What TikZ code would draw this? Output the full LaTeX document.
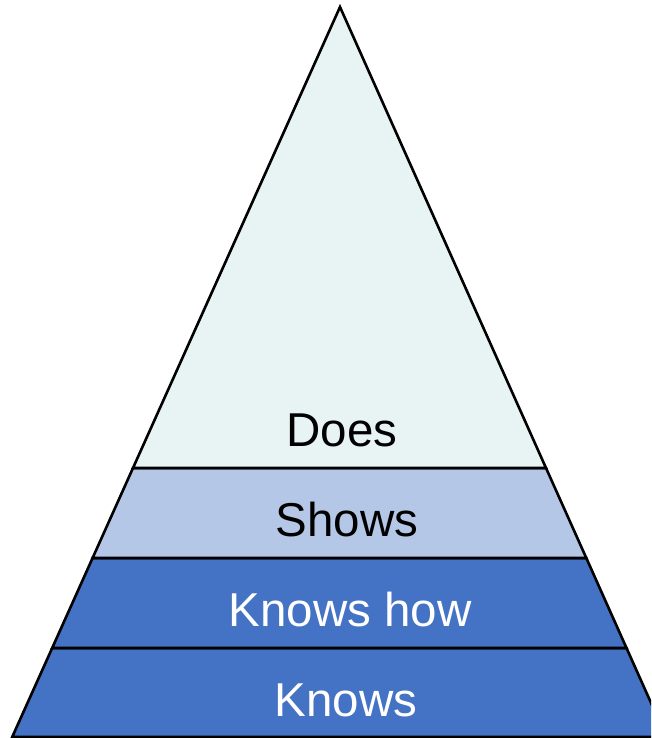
\documentclass[tikz,border=0pt]{standalone}
\usepackage{fontspec}
\setmainfont{Liberation Sans}
\definecolor{doesc}{HTML}{E8F4F4}
\definecolor{showsc}{HTML}{B4C7E7}
\definecolor{knowsc}{HTML}{4472C4}
\tikzset{
  band/.style={draw=black, line width=2.6pt, line join=miter},
  lbl/.style={font=\fontsize{47.5}{52}\selectfont, inner sep=0pt, anchor=base},
}
\begin{document}
\begin{tikzpicture}[x=1pt,y=-1pt]
\useasboundingbox (0,0) rectangle (651,738);
\clip (0,0) rectangle (651,738);
\coordinate (apex) at (340,7);
\coordinate (l1) at (133,468); \coordinate (r1) at (546,468);
\coordinate (l2) at (92.6,558); \coordinate (r2) at (586.3,558);
\coordinate (l3) at (52.2,648); \coordinate (r3) at (626.5,648);
\coordinate (l4) at (12.2,737); \coordinate (r4) at (666.3,737);
\draw[band, fill=knowsc] (l3) -- (r3) -- (r4) -- (l4) -- cycle;
\draw[band, fill=knowsc] (l2) -- (r2) -- (r3) -- (l3) -- cycle;
\draw[band, fill=showsc] (l1) -- (r1) -- (r2) -- (l2) -- cycle;
\draw[band, fill=doesc] (apex) -- (r1) -- (l1) -- cycle;
\node[lbl, text=black] (does) at (342,446) {Does};
\node[lbl, text=black] (shows) at (347,536) {Shows};
\node[lbl, text=white] (knowshow) at (350,626) {Knows how};
\node[lbl, text=white] (knows) at (346,716) {Knows};
\end{tikzpicture}
\end{document}
